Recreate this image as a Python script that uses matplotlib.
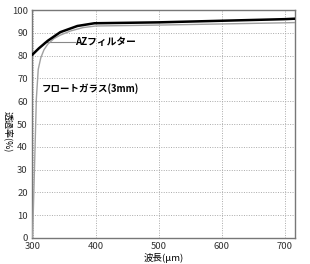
import matplotlib
matplotlib.use('Agg')
import matplotlib.pyplot as plt

plt.rcParams['font.family'] = ['Noto Sans CJK JP', 'DejaVu Sans']

# AZ filter (black)
az_x = [300, 310, 324, 344, 371, 398, 450, 500, 600, 700, 716]
az_y = [80.5, 83.2, 86.5, 90.3, 93.0, 94.2, 94.4, 94.6, 95.3, 96.0, 96.2]

# float glass 3mm (gray)
fg_x = [300, 301, 303, 306, 309, 313, 318, 324, 334, 344, 360, 380, 400, 500, 600, 700, 716]
fg_y = [0, 10, 30, 61, 74, 79, 82.5, 85.0, 87.5, 89.0, 90.8, 92.3, 93.0, 93.4, 93.9, 94.4, 94.5]

xticks = [300, 400, 500, 600, 700]
yticks = list(range(0, 101, 10))

fig = plt.figure(figsize=(3.1, 2.64), dpi=100)
ax = fig.add_axes([0.103, 0.0985, 0.849, 0.8635])

ax.plot(fg_x, fg_y, color='#a0a0a0', lw=1.0, zorder=3)
ax.plot(az_x, az_y, color='black', lw=1.8, zorder=4)

ax.set_xlim(299, 716)
ax.set_ylim(0, 100)
ax.set_xticks(xticks)
ax.set_yticks(yticks)
ax.tick_params(length=0, labelsize=6.8, colors='#333333', pad=3)
ax.grid(True, color='#aaaaaa', linestyle=(0, (1, 1.5)), lw=0.7)
for s in ax.spines.values():
    s.set_color('#777777')
    s.set_linewidth(1.0)

# leader line + labels
ax.plot([318, 367], [85.8, 85.8], color='#888888', lw=0.8, zorder=2)
ax.text(368, 85.8, 'AZフィルター', fontsize=7, fontweight='bold', va='center', ha='left')
ax.text(315, 65.5, 'フロートガラス(3mm)', fontsize=6.8, fontweight='bold', va='center', ha='left')

fig.text(0.027, 0.5, '透過率(%)', rotation=270, fontsize=6.5, va='center', ha='center')
ax.set_xlabel('波長(μm)', fontsize=6.8, labelpad=1)

fig.savefig('out.png', dpi=100)
